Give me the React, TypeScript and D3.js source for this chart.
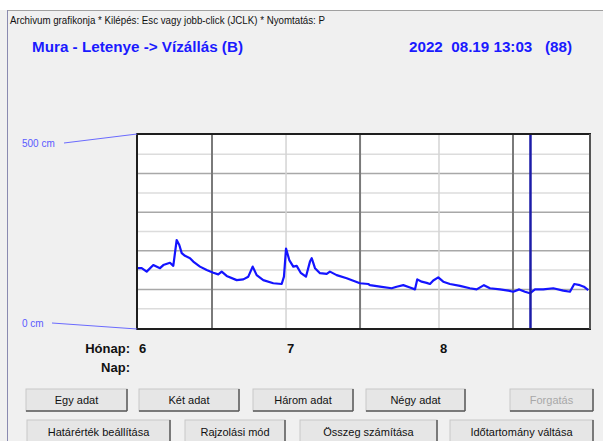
import React from "react";
import * as d3 from "d3";

// ---- data (days since 2022-06-01, water level in cm) ----
const days: number[] = [
  0, 0.75, 1.76, 3.1, 4.46, 5.13, 6.48, 7.15, 7.84, 8.37, 8.86, 9.52, 10.54, 11.2,
  12.56, 13.92, 15.26, 16.27, 16.96, 17.97, 20.0, 21.34, 22.35, 23.24, 24.05, 25.39,
  27.42, 29.12, 29.58, 30.0, 30.66, 31.47, 32.16, 32.97, 34.04, 34.85, 35.2, 35.87,
  36.88, 38.24, 38.9, 40.26, 42.29, 44.98, 46.67, 47.0, 49.04, 51.4, 52.42, 53.76,
  55.12, 56.13, 56.6, 57.49, 58.5, 59.17, 59.84, 60.85, 61.86, 63.22, 65.25, 67.27,
  68.63, 70.11, 71.33, 73.35, 75.04, 76.05, 77.26, 78.42, 79.43, 80.45, 82.13, 84.16,
  86.18, 87.54, 88.41, 89.56, 90.37, 91.25,
];
const levels: number[] = [
  155, 155, 146, 163, 155, 163, 169, 161, 228, 215, 194, 187, 181, 172,
  159, 150, 143, 139, 146, 135, 124, 126, 133, 159, 137, 124,
  116, 114, 133, 206, 176, 159, 161, 143, 133, 172, 181, 155,
  142, 140, 146, 137, 129, 116, 114, 111, 107, 103, 107, 111,
  105, 100, 126, 120, 117, 114, 123, 131, 120, 114, 109, 103,
  100, 111, 103, 100, 97, 94, 100, 94, 90, 100, 100, 103,
  97, 94, 114, 111, 107, 98,
];
const monthLabels: string[] = ["6", "7", "8"];
const monthStarts: number[] = [0, 30, 61];
const midMonths: number[] = [15, 45, 76];
const nowDay = 79.54;
const gridMajor: number[] = [100, 200, 300, 400];
const gridMinor: number[] = [50, 150, 250, 350, 450];
const yLabels: string[] = ["500 cm", "0 cm"];
const buttonsRow1: string[] = ["Egy adat", "Két adat", "Három adat", "Négy adat", "Forgatás"];
const buttonsRow2: string[] = ["Határérték beállítása", "Rajzolási mód", "Összeg számítása", "Időtartomány váltása"];

const W = 603, H = 441;
const X0 = 138, X1 = 589, Y0 = 135, Y1 = 328;
const FONT = "'Liberation Sans', Arial, sans-serif";

export default function App() {
  const x = d3.scaleLinear().domain([0, 91.4]).range([X0, X1]);
  const y = d3.scaleLinear().domain([0, 500]).range([Y1, Y0]);
  const pts = days.map((d, i) => [d, levels[i]] as [number, number]);
  const line = d3.line<[number, number]>().x((d) => x(d[0])).y((d) => y(d[1]));

  const row1X = [26, 139, 253, 366, 510];
  const row1W = [101, 100, 100, 99, 83];
  const row2X = [27, 185, 300, 450];
  const row2W = [143, 100, 137, 143];

  const button = (label: string, bx: number, by: number, bw: number, bh: number, disabled: boolean, key: string) => (
    <g key={key}>
      <rect x={bx} y={by} width={bw} height={bh} fill="#e6e6e6" stroke="#c8c8c8" />
      <line x1={bx + bw} y1={by} x2={bx + bw} y2={by + bh} stroke="#5a5a5a" strokeWidth={1.5} />
      <line x1={bx} y1={by + bh} x2={bx + bw} y2={by + bh} stroke="#5a5a5a" strokeWidth={1.5} />
      <text x={bx + bw / 2} y={by + bh / 2 + 4} textAnchor="middle" fontSize={11} fontFamily={FONT}
        fill={disabled ? "#a8a8a8" : "#111"}>{label}</text>
    </g>
  );

  return (
    <svg width={W} height={H} style={{ position: "absolute", left: 0, top: 0 }} fontFamily={FONT}>
      <rect x={0} y={0} width={W} height={H} fill="#f0f0f0" />
      <rect x={0} y={0} width={W} height={10} fill="#ffffff" />
      <line x1={7} y1={10.5} x2={W} y2={10.5} stroke="#a0a0a0" />
      <line x1={7.5} y1={10} x2={7.5} y2={H} stroke="#8a8ab0" />
      <text x={10} y={24} fontSize={10} fill="#111" textLength={315} lengthAdjust="spacingAndGlyphs">
        Archivum grafikonja * Kilépés: Esc vagy jobb-click (JCLK) * Nyomtatás: P
      </text>
      <text x={32} y={52} fontSize={14} fontWeight="bold" fill="#1a1aff" textLength={211} lengthAdjust="spacingAndGlyphs">
        Mura - Letenye -&gt; Vízállás (B)
      </text>
      <text x={409} y={52} fontSize={14} fontWeight="bold" fill="#1a1aff" textLength={163} lengthAdjust="spacingAndGlyphs" style={{ whiteSpace: "pre" }}>
        2022  08.19 13:03   (88)
      </text>

      {/* plot area */}
      <rect x={X0} y={Y0} width={X1 - X0} height={Y1 - Y0} fill="#ffffff" />
      {gridMinor.map((v) => (
        <line key={"mi" + v} x1={X0} x2={X1} y1={y(v)} y2={y(v)} stroke="#dcdcdc" strokeWidth={1.5} />
      ))}
      {gridMajor.map((v) => (
        <line key={"ma" + v} x1={X0} x2={X1} y1={y(v)} y2={y(v)} stroke="#a8a8a8" strokeWidth={1.5} />
      ))}
      {monthStarts.slice(1).map((d) => (
        <line key={"ms" + d} x1={x(d)} x2={x(d)} y1={Y0} y2={Y1} stroke="#d4d4d4" strokeWidth={1.5} />
      ))}
      {midMonths.map((d) => (
        <line key={"mm" + d} x1={x(d)} x2={x(d)} y1={Y0} y2={Y1} stroke="#7a7a7a" strokeWidth={2} />
      ))}
      <path d={line(pts) || ""} fill="none" stroke="#1414ff" strokeWidth={2.2} strokeLinejoin="round" />
      <line x1={x(nowDay)} x2={x(nowDay)} y1={Y0} y2={Y1} stroke="#1c1ca8" strokeWidth={2.5} />
      <rect x={X0 - 1} y={Y0 - 1} width={X1 - X0 + 2} height={Y1 - Y0 + 2} fill="none" stroke="#1e1e1e" strokeWidth={2} />
      <line x1={X1 + 1} x2={X1 + 1} y1={Y0 - 1} y2={Y1 + 1} stroke="#555" strokeWidth={2} />

      {/* y labels */}
      <text x={22} y={147} fontSize={10} fill="#5a5aff">{yLabels[0]}</text>
      <line x1={64} y1={143} x2={X0 - 1} y2={Y0 - 1} stroke="#6b6bff" strokeWidth={1} />
      <text x={22} y={327} fontSize={10} fill="#5a5aff">{yLabels[1]}</text>
      <line x1={52} y1={323} x2={X0 - 1} y2={Y1 + 1} stroke="#6b6bff" strokeWidth={1} />

      {/* month row */}
      <text x={130} y={353} fontSize={13} fontWeight="bold" textAnchor="end" fill="#111">Hónap:</text>
      <text x={130} y={372} fontSize={13} fontWeight="bold" textAnchor="end" fill="#111">Nap:</text>
      {monthStarts.map((d, i) => (
        <text key={"ml" + i} x={x(d) + 1} y={353} fontSize={13} fontWeight="bold" fill="#111">{monthLabels[i]}</text>
      ))}

      {/* buttons */}
      {buttonsRow1.map((b, i) => button(b, row1X[i], 389, row1W[i], 22, i === 4, "b1" + i))}
      {buttonsRow2.map((b, i) => button(b, row2X[i], 420, row2W[i], 23, false, "b2" + i))}
    </svg>
  );
}
